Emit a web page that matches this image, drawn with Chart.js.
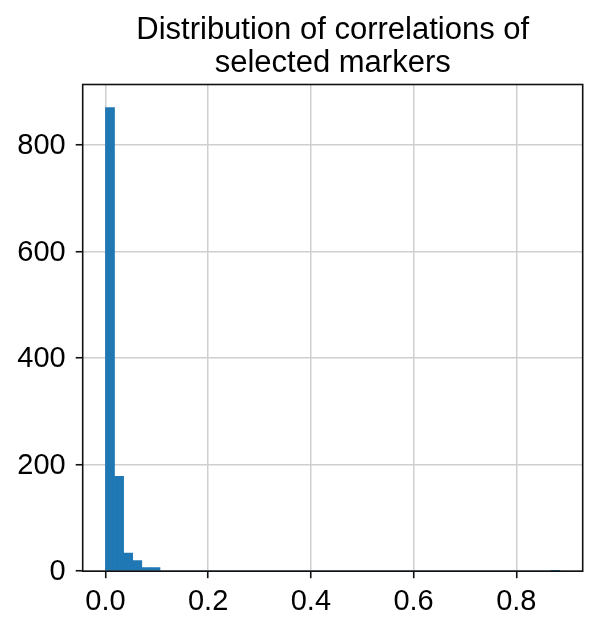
<!DOCTYPE html>
<html>
<head>
<meta charset="utf-8">
<script src="https://cdn.jsdelivr.net/npm/chart.js@4.4.1/dist/chart.umd.min.js"></script>
<style>
  html, body { margin: 0; padding: 0; background: #ffffff; }
  #wrap { width: 598px; height: 632px; position: relative; }
</style>
</head>
<body>
<div id="wrap"><canvas id="c"></canvas></div>
<script>
// ---- data ----
const titleLines = ["Distribution of correlations of", "selected markers"];
const binStart = 0.0;
const binWidth = 0.0177;
const binCounts = [870, 178, 34, 20, 7, 7, 0, 0, 0, 0,
                   0, 0, 0, 0, 0, 0, 0, 0, 0, 0,
                   0, 0, 0, 0, 0, 0, 0, 0, 0, 0,
                   0, 0, 0, 0, 0, 0, 0, 0, 0, 0,
                   0, 0, 0, 0, 0, 0, 0, 0, 0, 1];
const xTicks = [0.0, 0.2, 0.4, 0.6, 0.8];
const yTicks = [0, 200, 400, 600, 800];

const points = binCounts.map((c, i) => ({ x: binStart + (i + 0.5) * binWidth, y: c }));
const dataMax = binStart + binCounts.length * binWidth;
const span = dataMax - binStart;
const xMin = binStart - 0.05 * span;
const xMax = dataMax + 0.05 * span;
const yMax = Math.max(...binCounts) * 1.05;

const FONT = "'Liberation Sans', Arial, Helvetica, sans-serif";

const framePlugin = {
  id: 'frame',
  afterDraw(chart) {
    const { ctx, chartArea: a } = chart;
    ctx.save();
    ctx.strokeStyle = '#111111';
    ctx.lineWidth = 1.6;
    ctx.strokeRect(a.left, a.top, a.right - a.left, a.bottom - a.top);
    ctx.fillStyle = '#000000';
    ctx.font = '31px ' + FONT;
    ctx.textAlign = 'center';
    ctx.textBaseline = 'alphabetic';
    const cx = (a.left + a.right) / 2;
    ctx.fillText(titleLines[0], cx, 39);
    ctx.fillText(titleLines[1], cx, 71.5);
    ctx.restore();
  }
};

new Chart(document.getElementById('c'), {
  type: 'bar',
  data: {
    datasets: [{
      data: points,
      backgroundColor: '#1f77b4',
      borderWidth: 0,
      barPercentage: 1.0,
      categoryPercentage: 1.0,
      grouped: false
    }]
  },
  options: {
    responsive: true,
    maintainAspectRatio: false,
    animation: false,
    layout: { padding: { top: 84.5, left: 0, right: 15.3, bottom: 0 } },
    plugins: { legend: { display: false }, tooltip: { enabled: false }, title: { display: false } },
    scales: {
      x: {
        type: 'linear',
        min: xMin,
        max: xMax,
        z: 1,
        offset: false,
        afterBuildTicks(scale) { scale.ticks = xTicks.map(v => ({ value: v })); },
        afterFit(scale) { scale.height = 60.8; },
        ticks: {
          color: '#000000',
          font: { family: FONT, size: 29 },
          padding: 6,
          maxRotation: 0,
          autoSkip: false,
          callback: v => Number(v).toFixed(1)
        },
        grid: {
          offset: false,
          color: '#cfcfcf',
          lineWidth: 1.5,
          drawTicks: true,
          tickLength: 7,
          tickColor: '#111111',
          tickWidth: 1.6
        },
        border: { display: false }
      },
      y: {
        type: 'linear',
        min: 0,
        max: yMax,
        z: 1,
        afterBuildTicks(scale) { scale.ticks = yTicks.map(v => ({ value: v })); },
        afterFit(scale) { scale.width = 82.7; },
        ticks: {
          color: '#000000',
          font: { family: FONT, size: 29 },
          padding: 10,
          labelOffset: 1,
          autoSkip: false,
          callback: v => String(v)
        },
        grid: {
          color: '#cfcfcf',
          lineWidth: 1.5,
          drawTicks: true,
          tickLength: 7,
          tickColor: '#111111',
          tickWidth: 1.6
        },
        border: { display: false }
      }
    }
  },
  plugins: [framePlugin]
});
</script>
</body>
</html>
